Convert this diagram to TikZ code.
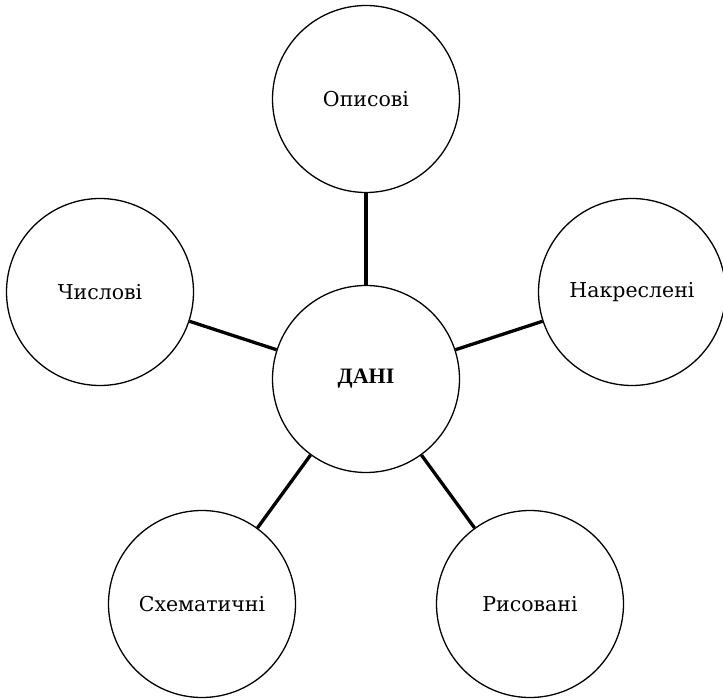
\documentclass[tikz,border=0pt]{standalone}
\usepackage{fontspec}
\setmainfont{DejaVu Serif}
\newfontfamily\boldserif{Liberation Serif}
\begin{document}
\begin{tikzpicture}[x=1pt,y=-1pt,
  bubble/.style={circle,draw,line width=1.3pt,minimum size=187pt,inner sep=0pt,font=\fontsize{20.5}{24}\selectfont},
  hub/.style={bubble,font=\boldserif\bfseries\fontsize{22}{26}\selectfont},
  link/.style={line width=3.3pt}]
\useasboundingbox (0,0) rectangle (723,700);
\node[hub] (c) at (366,379) {ДАНІ};
\node[bubble] (t) at (366,99) {Описові};
\node[bubble] (r) at (632,292) {Накреслені};
\node[bubble] (l) at (100,292) {Числові};
\node[bubble] (bl) at (202,604) {Схематичні};
\node[bubble] (br) at (530,604) {Рисовані};
\draw[link] (c) -- (t);
\draw[link] (c) -- (r);
\draw[link] (c) -- (l);
\draw[link] (c) -- (bl);
\draw[link] (c) -- (br);
\end{tikzpicture}
\end{document}
